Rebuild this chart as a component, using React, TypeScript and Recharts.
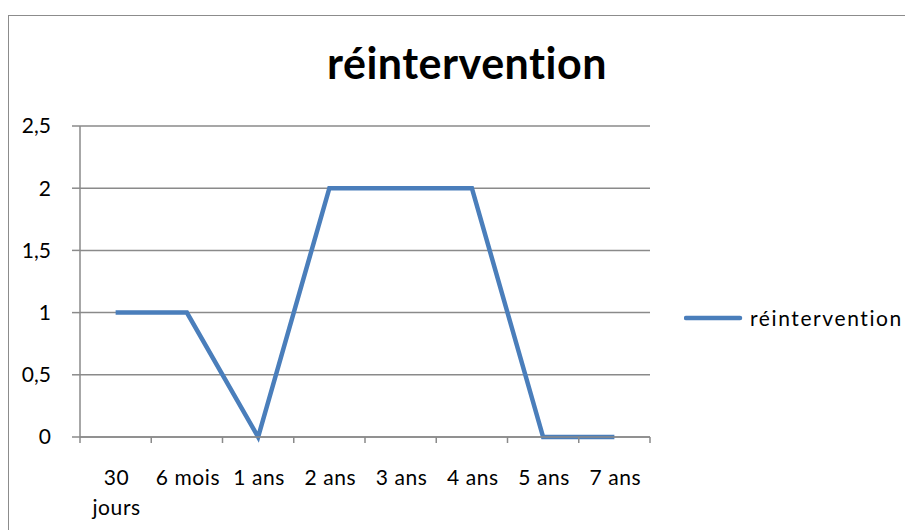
import React from 'react';
import { LineChart, Line, XAxis, YAxis, CartesianGrid, Legend } from 'recharts';

const categories = ['30 jours', '6 mois', '1 ans', '2 ans', '3 ans', '4 ans', '5 ans', '7 ans'];
// same labels as drawn, Excel wraps the first one on two lines
const tickLabels = ['30\njours', '6 mois', '1 ans', '2 ans', '3 ans', '4 ans', '5 ans', '7 ans'];
const reintervention = [1, 1, 0, 2, 2, 2, 0, 0];
const yTicks = [0, 0.5, 1, 1.5, 2, 2.5];

const data = categories.map((cat, i) => ({ cat, reintervention: reintervention[i] }));

const FONT = 'Lato, "DejaVu Sans", sans-serif';
const LINE_COLOR = '#4a7ebb';
const GRID_COLOR = '#8a8a8a';

const WIDTH = 905;
const HEIGHT = 522;
const MARGIN = { top: 118, right: 263, bottom: 33, left: 22 };
const Y_AXIS_WIDTH = 50;
const PLOT_WIDTH = WIDTH - MARGIN.left - MARGIN.right - Y_AXIS_WIDTH;
const BAND = PLOT_WIDTH / categories.length;

// Excel style: tick marks between categories, labels centred in each band
const CategoryTick = (props: any) => {
  const { x, y, index } = props;
  const left = x - BAND / 2;
  const lines = (tickLabels[index] || '').split('\n');
  return (
    <g>
      <line x1={left} y1={y - 8} x2={left} y2={y - 2} stroke={GRID_COLOR} strokeWidth={1.5} />
      {index === categories.length - 1 && (
        <line x1={x + BAND / 2} y1={y - 8} x2={x + BAND / 2} y2={y - 2} stroke={GRID_COLOR} strokeWidth={1.5} />
      )}
      <text
        x={x + 1}
        y={y + 40}
        textAnchor="middle"
        fill="#000"
        fontSize={21}
        fontFamily={FONT}
        letterSpacing={0.6}
      >
        {lines.map((l, i) => (
          <tspan key={i} x={x + 1} dy={i === 0 ? 0 : 30}>
            {l}
          </tspan>
        ))}
      </text>
    </g>
  );
};

const LegendContent = () => (
  <div style={{ display: 'flex', alignItems: 'center', fontFamily: FONT, fontSize: 21, letterSpacing: 1.6, color: '#000' }}>
    <svg width={66} height={10}>
      <line x1={2} y1={5} x2={56} y2={5} stroke={LINE_COLOR} strokeWidth={4.5} strokeLinecap="round" />
    </svg>
    <span>réintervention</span>
  </div>
);

const App: React.FC = () => {
  return (
    <div style={{ position: 'relative', width: WIDTH, height: HEIGHT, overflow: 'hidden', background: '#fff' }}>
      <div
        style={{
          position: 'absolute',
          left: 0,
          top: 7,
          width: 1200,
          height: 1200,
          border: '1.5px solid #8c8c8c',
          boxSizing: 'border-box',
        }}
      />
      <div
        style={{
          position: 'absolute',
          left: 0,
          top: 29,
          width: 918,
          textAlign: 'center',
          fontFamily: FONT,
          fontWeight: 'bold',
          fontSize: 43,
          letterSpacing: 0.5,
          color: '#000',
        }}
      >
        réintervention
      </div>
      <div style={{ position: 'absolute', left: 0, top: 0 }}>
        <LineChart width={WIDTH} height={HEIGHT} data={data} margin={MARGIN}>
          <CartesianGrid vertical={false} stroke={GRID_COLOR} strokeWidth={1.5} />
          <XAxis
            dataKey="cat"
            scale="band"
            interval={0}
            tickLine={false}
            axisLine={{ stroke: GRID_COLOR, strokeWidth: 1.5 }}
            tick={<CategoryTick />}
            height={60}
          />
          <YAxis
            width={Y_AXIS_WIDTH}
            domain={[0, 2.5]}
            ticks={yTicks}
            interval={0}
            tickSize={8}
            tickMargin={21}
            tickFormatter={(v: number) => String(v).replace('.', ',')}
            tickLine={{ stroke: GRID_COLOR, strokeWidth: 1.5 }}
            axisLine={{ stroke: GRID_COLOR, strokeWidth: 1.5 }}
            tick={{ fill: '#000', fontSize: 21, fontFamily: FONT }}
          />
          <Legend
            verticalAlign="middle"
            align="center"
            content={<LegendContent />}
            wrapperStyle={{ left: 676, top: 297, width: 229 }}
          />
          <Line
            type="linear"
            dataKey="reintervention"
            name="réintervention"
            stroke={LINE_COLOR}
            strokeWidth={4.5}
            dot={false}
            activeDot={false}
            isAnimationActive={false}
          />
        </LineChart>
      </div>
    </div>
  );
};

export default App;
